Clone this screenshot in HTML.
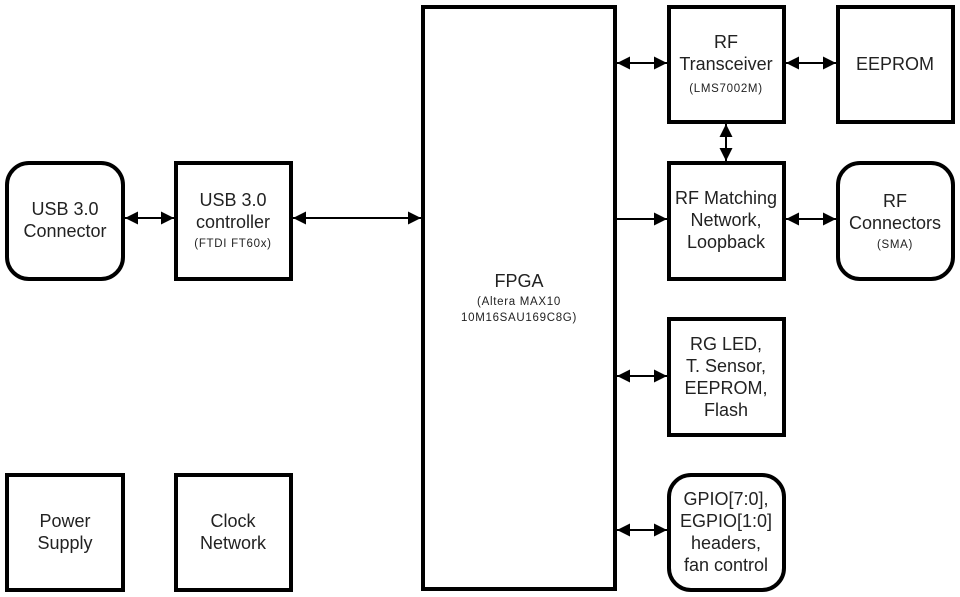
<!DOCTYPE html>
<html><head><meta charset="utf-8"><style>
html,body{margin:0;padding:0;background:#fff;}
svg{display:block;}
text{font-family:"Liberation Sans",sans-serif;fill:#222;text-anchor:middle;}
.b{font-size:18px;}
.s{font-size:11.5px;letter-spacing:0.7px;}
</style></head><body>
<svg width="960" height="597" viewBox="0 0 960 597" xmlns="http://www.w3.org/2000/svg">
<defs>
<marker id="a" viewBox="0 0 13 13" refX="13" refY="6.5" markerWidth="13" markerHeight="13" markerUnits="userSpaceOnUse" orient="auto-start-reverse">
<path d="M0,0 L13,6.5 L0,13 Z" fill="#000"/></marker>
</defs>
<g fill="none" stroke="#000" stroke-width="4">
<rect x="7" y="163" width="116" height="116" rx="22"/>
<rect x="176" y="163" width="115" height="116"/>
<rect x="423" y="7" width="192" height="582"/>
<rect x="669" y="7" width="115" height="115"/>
<rect x="838" y="7" width="115" height="115"/>
<rect x="669" y="163" width="115" height="116"/>
<rect x="838" y="163" width="115" height="116" rx="22"/>
<rect x="669" y="319" width="115" height="116"/>
<rect x="669" y="475" width="115" height="115" rx="22"/>
<rect x="7" y="475" width="116" height="115"/>
<rect x="176" y="475" width="115" height="115"/>
</g>
<g stroke="#000" stroke-width="2" marker-end="url(#a)">
<line x1="125" y1="218" x2="174" y2="218" marker-start="url(#a)"/>
<line x1="293" y1="218" x2="421" y2="218" marker-start="url(#a)"/>
<line x1="617" y1="63" x2="667" y2="63" marker-start="url(#a)"/>
<line x1="786" y1="63" x2="836" y2="63" marker-start="url(#a)"/>
<line x1="726" y1="124" x2="726" y2="161" marker-start="url(#a)"/>
<line x1="617" y1="219" x2="667" y2="219"/>
<line x1="786" y1="219" x2="836" y2="219" marker-start="url(#a)"/>
<line x1="617" y1="376" x2="667" y2="376" marker-start="url(#a)"/>
<line x1="617" y1="530" x2="667" y2="530" marker-start="url(#a)"/>
</g>
<text class="b" x="65" y="215">USB 3.0</text>
<text class="b" x="65" y="237">Connector</text>
<text class="b" x="233" y="206">USB 3.0</text>
<text class="b" x="233" y="228">controller</text>
<text class="s" x="233" y="247">(FTDI FT60x)</text>
<text class="b" x="519" y="287">FPGA</text>
<text class="s" x="519" y="305">(Altera MAX10</text>
<text class="s" x="519" y="321">10M16SAU169C8G)</text>
<text class="b" x="726" y="48">RF</text>
<text class="b" x="726" y="70">Transceiver</text>
<text class="s" x="726" y="92">(LMS7002M)</text>
<text class="b" x="895" y="70">EEPROM</text>
<text class="b" x="726" y="204">RF Matching</text>
<text class="b" x="726" y="226">Network,</text>
<text class="b" x="726" y="248">Loopback</text>
<text class="b" x="895" y="207">RF</text>
<text class="b" x="895" y="229">Connectors</text>
<text class="s" x="895" y="248">(SMA)</text>
<text class="b" x="726" y="350">RG LED,</text>
<text class="b" x="726" y="372">T. Sensor,</text>
<text class="b" x="726" y="394">EEPROM,</text>
<text class="b" x="726" y="416">Flash</text>
<text class="b" x="726" y="505">GPIO[7:0],</text>
<text class="b" x="726" y="527">EGPIO[1:0]</text>
<text class="b" x="726" y="549">headers,</text>
<text class="b" x="726" y="571">fan control</text>
<text class="b" x="65" y="527">Power</text>
<text class="b" x="65" y="549">Supply</text>
<text class="b" x="233" y="527">Clock</text>
<text class="b" x="233" y="549">Network</text>
</svg>
</body></html>
